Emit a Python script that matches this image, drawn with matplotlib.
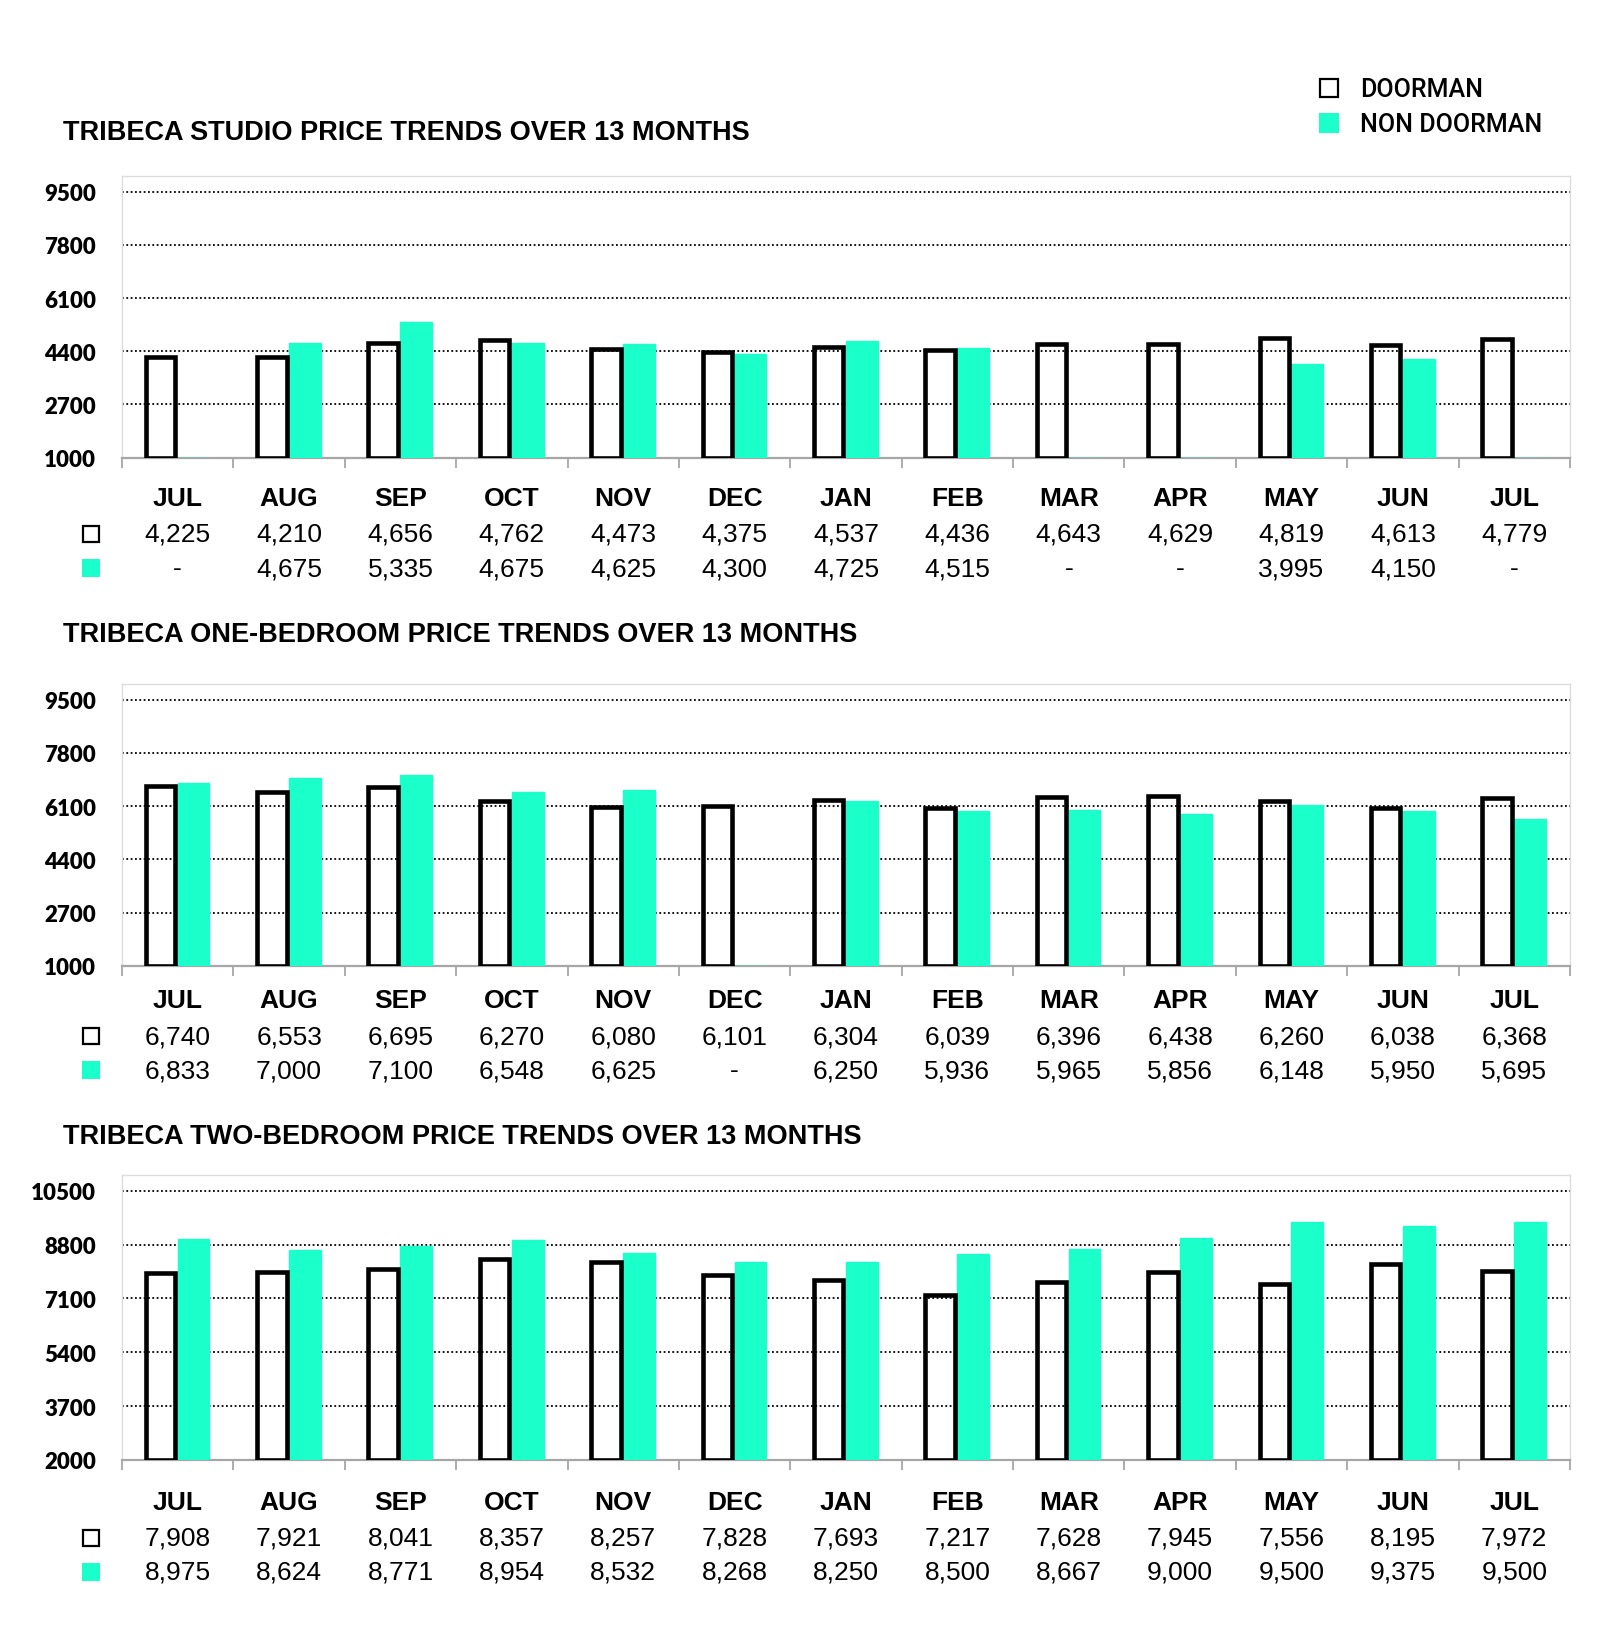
import matplotlib
matplotlib.use("Agg")
import matplotlib.pyplot as plt
from matplotlib.transforms import blended_transform_factory
from matplotlib.patches import Rectangle

months = ["JUL", "AUG", "SEP", "OCT", "NOV", "DEC", "JAN", "FEB", "MAR", "APR", "MAY", "JUN", "JUL"]

studio_title = "TRIBECA STUDIO PRICE TRENDS OVER 13 MONTHS"
studio_doorman = [4225, 4210, 4656, 4762, 4473, 4375, 4537, 4436, 4643, 4629, 4819, 4613, 4779]
studio_non = [None, 4675, 5335, 4675, 4625, 4300, 4725, 4515, None, None, 3995, 4150, None]
studio_ticks = [1000, 2700, 4400, 6100, 7800, 9500]

onebed_title = "TRIBECA ONE-BEDROOM PRICE TRENDS OVER 13 MONTHS"
onebed_doorman = [6740, 6553, 6695, 6270, 6080, 6101, 6304, 6039, 6396, 6438, 6260, 6038, 6368]
onebed_non = [6833, 7000, 7100, 6548, 6625, None, 6250, 5936, 5965, 5856, 6148, 5950, 5695]
onebed_ticks = [1000, 2700, 4400, 6100, 7800, 9500]

twobed_title = "TRIBECA TWO-BEDROOM PRICE TRENDS OVER 13 MONTHS"
twobed_doorman = [7908, 7921, 8041, 8357, 8257, 7828, 7693, 7217, 7628, 7945, 7556, 8195, 7972]
twobed_non = [8975, 8624, 8771, 8954, 8532, 8268, 8250, 8500, 8667, 9000, 9500, 9375, 9500]
twobed_ticks = [2000, 3700, 5400, 7100, 8800, 10500]

legend_labels = ["DOORMAN", "NON DOORMAN"]

CYAN = "#1BFFCB"
W, H = 1600, 1649
fig = plt.figure(figsize=(W / 100, H / 100), dpi=100)
fig.patch.set_facecolor("white")

def fy(px):
    return 1 - px / H

def fx(px):
    return px / W

def fmt(v):
    return "-" if v is None else f"{v:,}"

panels = [
    # title, doorman, non, ticks, axes top px, axes bottom px, title y, month y, row1 y, row2 y
    (studio_title, studio_doorman, studio_non, studio_ticks, 177, 458.7, 133, 499.5, 535, 569),
    (onebed_title, onebed_doorman, onebed_non, onebed_ticks, 685, 966.8, 635, 1001.5, 1037, 1071),
    (twobed_title, twobed_doorman, twobed_non, twobed_ticks, 1176, 1461, 1137, 1503.5, 1539, 1573),
]

left_px, right_px = 122, 1570
for title, door, non, ticks, top, bot, ty, my, r1, r2 in panels:
    ax = fig.add_axes([fx(left_px), fy(bot), fx(right_px - left_px), (bot - top) / H])
    step = ticks[1] - ticks[0]
    ymin = ticks[0]
    ymax = ticks[-1] + step * 0.294
    ax.set_ylim(ymin, ymax)
    ax.set_xlim(-0.5, len(months) - 0.5)
    x = list(range(len(months)))
    for t in ticks[1:]:
        ax.axhline(t, color="black", lw=1.3, ls=(0, (1, 1.4)), zorder=1)
    nh = [(v - ymin) if v is not None else 0 for v in non]
    ax.bar([i + 0.142 for i in x], nh, width=0.285, bottom=ymin, color=CYAN,
           edgecolor=CYAN, linewidth=1.0, zorder=2.7)
    dh = [v - ymin for v in door]
    ax.bar([i - 0.155 for i in x], dh, width=0.265, bottom=ymin, facecolor="none",
           edgecolor="black", linewidth=3.3, zorder=3)
    for s in ["top", "left", "right"]:
        ax.spines[s].set_color("#dcdcdc")
        ax.spines[s].set_linewidth(1.0)
    ax.spines["bottom"].set_color("#a6a6a6")
    ax.spines["bottom"].set_linewidth(1.6)
    ax.set_yticks(ticks)
    ax.set_yticklabels([str(t) for t in ticks], fontfamily="Lato", fontweight="heavy", fontsize=16)
    ax.tick_params(axis="y", length=0, pad=18.5)
    ax.set_xticks([])
    ax.set_xticks([i - 0.5 for i in range(len(months) + 1)], minor=True)
    ax.tick_params(axis="x", which="minor", direction="out", length=7, color="#a6a6a6", width=1.3)
    ax.set_facecolor("white")

    fig.text(fx(63), fy(ty), title, fontfamily="Liberation Sans", fontweight="bold",
             fontsize=19.5, va="center", ha="left")
    tr = blended_transform_factory(ax.transData, fig.transFigure)
    for i, m in enumerate(months):
        fig.text(i, fy(my), m, transform=tr, ha="center", va="center",
                 fontfamily="Liberation Sans", fontweight="bold", fontsize=19)
        fig.text(i, fy(r1), fmt(door[i]), transform=tr, ha="center", va="center",
                 fontfamily="Liberation Sans", fontsize=19)
        fig.text(i, fy(r2), fmt(non[i]), transform=tr, ha="center", va="center",
                 fontfamily="Liberation Sans", fontsize=19)
    # row markers
    fig.add_artist(Rectangle((fx(83), fy(r1 + 8)), fx(16), 16 / H, facecolor="white",
                             edgecolor="black", linewidth=1.6, transform=fig.transFigure))
    fig.add_artist(Rectangle((fx(82), fy(r2 + 9)), fx(18), 18 / H, facecolor=CYAN,
                             edgecolor="none", transform=fig.transFigure))

# legend
fig.add_artist(Rectangle((fx(1320), fy(98)), fx(18), 18 / H, facecolor="white",
                         edgecolor="black", linewidth=1.6, transform=fig.transFigure))
fig.add_artist(Rectangle((fx(1319), fy(134)), fx(20), 20 / H, facecolor=CYAN,
                         edgecolor="none", transform=fig.transFigure))
fig.text(fx(1360), fy(90), legend_labels[0], fontfamily="Roboto", fontweight="medium",
         fontsize=18, va="center", ha="left")
fig.text(fx(1360), fy(125), legend_labels[1], fontfamily="Roboto", fontweight="medium",
         fontsize=18, va="center", ha="left")

fig.savefig("out.png", dpi=100, facecolor="white")
